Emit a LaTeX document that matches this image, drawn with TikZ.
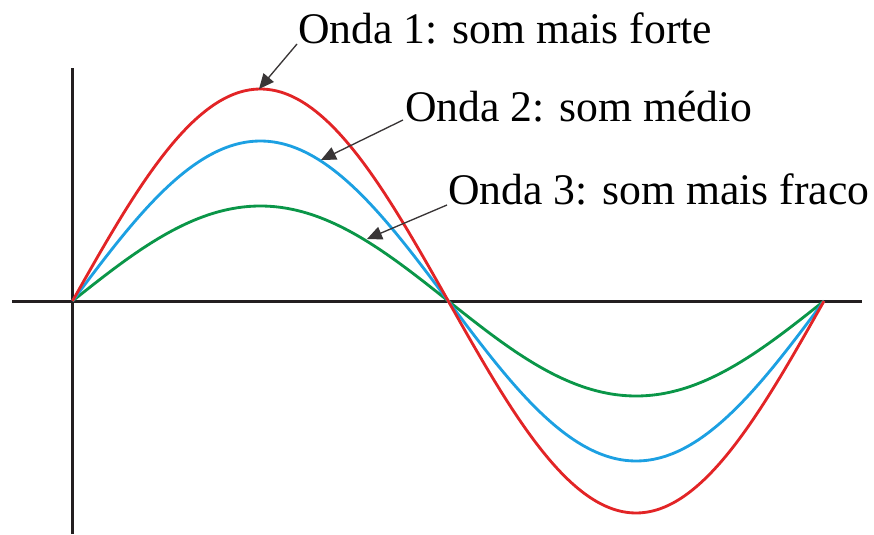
\documentclass[tikz,border=0pt]{standalone}
\usepackage{fontspec}
\setmainfont{Liberation Serif}
\usepackage{tikz}
\usetikzlibrary{arrows.meta,calc}

\definecolor{wavered}{RGB}{226,36,38}
\definecolor{waveblue}{RGB}{28,160,226}
\definecolor{wavegreen}{RGB}{10,150,72}
\definecolor{axisgray}{RGB}{35,31,32}

\begin{document}
\begin{tikzpicture}[x=0.03cm, y=-0.03cm,
        axisline/.style={line width=0.09cm, axisgray},
        wave/.style={line width=0.085cm, smooth},
        label/.style={inner sep=0pt, anchor=base west, font=\fontsize{37.3}{40}\selectfont},
        pointer/.style={line width=0.04cm, axisgray!90, -{Triangle[length=0.45cm, width=0.4cm]}}]
        \useasboundingbox (0,0) rectangle (874,534);

        % axes
        \coordinate (ytop) at (72,68);
        \coordinate (ybot) at (72,534);
        \coordinate (xleft) at (12,301);
        \coordinate (xright) at (862,301);
        \draw [axisline] (ybot) -- (ytop);
        \draw [axisline] (xleft) -- (xright);

        % waves
        \draw [wave, wavegreen] plot [domain=72.5:824, samples=120] (\x, {301-95*sin((\x-72.5)/751.5*360)});
        \draw [wave, waveblue] plot [domain=72.5:824, samples=120] (\x, {301-160*sin((\x-72.5)/751.5*360)});
        \draw [wave, wavered] plot [domain=72.5:824, samples=120] (\x, {301-212*sin((\x-72.5)/751.5*360)});

        % labels
        \node[label] (onda1) at (298,44) {Onda 1: som mais forte};
        \node[label] (onda2) at (405,121) {Onda 2: som médio};
        \node[label] (onda3) at (448,204) {Onda 3: som mais fraco};

        \coordinate (p1) at (259,89);
        \coordinate (p2) at (321,160);
        \coordinate (p3) at (367,239);

        \draw [pointer] ($(onda1.base west)+(-1,0)$) to (p1);
        \draw [pointer] ($(onda2.base west)+(-2,-1)$) to (p2);
        \draw [pointer] ($(onda3.base west)+(-1,1)$) to (p3);
    \end{tikzpicture}
\end{document}
